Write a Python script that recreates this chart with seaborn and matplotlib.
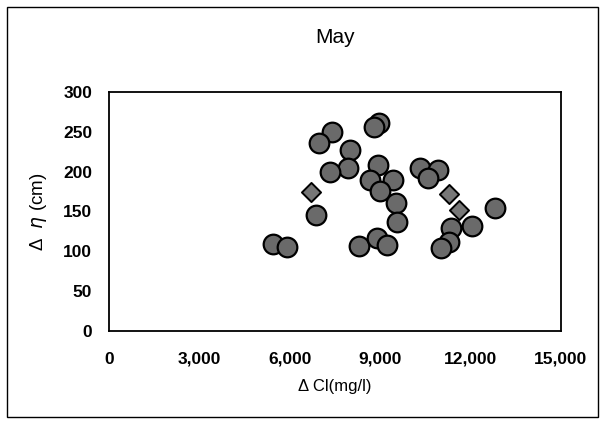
import matplotlib
matplotlib.use("Agg")
import matplotlib.pyplot as plt
import seaborn as sns
import pandas as pd
from matplotlib.patches import Rectangle

# Data
cl_circle = [5430, 5910, 7390, 6980, 8000, 7930, 7340, 8980, 8810, 8920,
             8680, 9420, 9010, 9530, 9570, 6870, 8290, 8900, 9240, 10310,
             10920, 10590, 11340, 11280, 11030, 12060, 12800]
eta_circle = [109, 105, 250, 236, 227, 205, 200, 261, 256, 208,
              190, 189, 175, 161, 137, 145, 106, 116, 108, 205,
              202, 192, 129, 111, 104, 132, 154]
cl_diamond = [6710, 11280, 11610]
eta_diamond = [174, 172, 152]

x_ticks = [0, 3000, 6000, 9000, 12000, 15000]
x_tick_labels = ["0", "3,000", "6,000", "9,000", "12,000", "15,000"]
y_ticks = [0, 50, 100, 150, 200, 250, 300]

df_c = pd.DataFrame({"cl": cl_circle, "eta": eta_circle})
df_d = pd.DataFrame({"cl": cl_diamond, "eta": eta_diamond})

sns.set_style("white")
plt.rcParams["font.family"] = ["Liberation Sans", "DejaVu Sans"]
plt.rcParams["text.color"] = "black"
plt.rcParams["axes.labelcolor"] = "black"

fig = plt.figure(figsize=(6.05, 4.24), dpi=100)
ax = fig.add_axes([0.180, 0.220, 0.747, 0.563])

sns.scatterplot(data=df_c, x="cl", y="eta", ax=ax, marker="o", s=200,
                color="#6a6a6a", edgecolor="black", linewidth=1.6, zorder=3)
sns.scatterplot(data=df_d, x="cl", y="eta", ax=ax, marker="D", s=95,
                color="#777777", edgecolor="black", linewidth=1.4, zorder=3)

ax.set_xlim(0, 15000)
ax.set_ylim(0, 300)
ax.set_xticks(x_ticks)
ax.set_xticklabels(x_tick_labels)
ax.set_yticks(y_ticks)
ax.tick_params(direction="in", length=4, width=1, colors="black",
               labelsize=12.5)
ax.tick_params(axis="x", pad=15)
ax.tick_params(axis="y", pad=12)
for lab in ax.get_xticklabels() + ax.get_yticklabels():
    lab.set_fontweight("bold")
for sp in ax.spines.values():
    sp.set_color("black")
    sp.set_linewidth(1.3)

ax.set_xlabel("Δ Cl(mg/l)", fontsize=12, labelpad=9)
ax.set_ylabel(r"Δ  $\eta$ (cm)", fontsize=13.5, labelpad=10)
ax.set_title("May", fontsize=15, pad=35)

fig.patches.append(Rectangle((0.012, 0.016), 0.976, 0.968, transform=fig.transFigure,
                             fill=False, edgecolor="black", linewidth=1.0))

fig.savefig("out.png", dpi=100)
